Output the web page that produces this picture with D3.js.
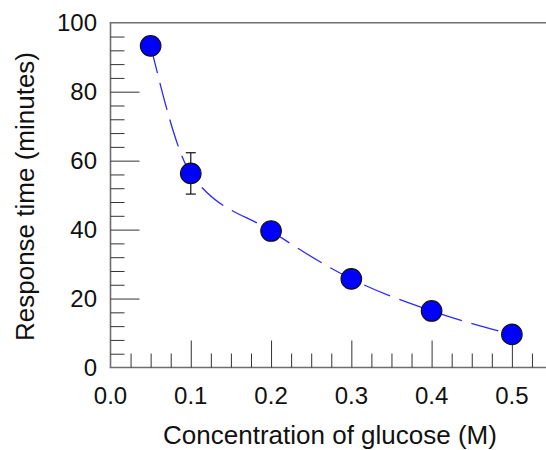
<!DOCTYPE html>
<html>
<head>
<meta charset="utf-8">
<script src="https://cdn.jsdelivr.net/npm/d3@7"></script>
<style>
  html, body { margin: 0; padding: 0; background: #fff; }
  svg { display: block; }
  text { font-family: "Liberation Sans", Arial, sans-serif; fill: #111; }
</style>
</head>
<body>
<svg id="chart" width="546" height="450"></svg>
<script>
// Glucose concentration (M) and measured response time (minutes)
const concentration = [0.05, 0.1, 0.2, 0.3, 0.4, 0.5];
const responseTime = [93.3, 56.3, 39.6, 25.7, 16.4, 9.6];
const errorMinutes = [2.6, 6.0, 2.0, 2.0, 2.0, 2.0];

const xTickValues = [0.0, 0.1, 0.2, 0.3, 0.4, 0.5];
const yTickValues = [0, 20, 40, 60, 80, 100];

(function () {
  const svg = d3.select("#chart");
  const W = 546;
  const plotLeft = 110.5, plotBottom = 367.5, plotTop = 22.75;

  const x = d3.scaleLinear().domain([0, 0.5425]).range([plotLeft, W]);
  const y = d3.scaleLinear().domain([0, 100]).range([plotBottom, plotTop]);

  // Frame lines: left, bottom, top
  const frame = svg.append("g").attr("stroke", "#6e6e6e").attr("stroke-width", 1.6);
  frame.append("line").attr("x1", plotLeft).attr("x2", plotLeft).attr("y1", plotTop).attr("y2", plotBottom);
  frame.append("line").attr("x1", plotLeft - 0.8).attr("x2", W).attr("y1", plotBottom).attr("y2", plotBottom);
  frame.append("line").attr("x1", plotLeft - 0.8).attr("x2", W).attr("y1", plotTop).attr("y2", plotTop);

  // X axis: inward ticks, major every 0.1 and minor every 0.025
  const xMinor = d3.range(0.025, 0.53, 0.025).filter(v => Math.abs(v * 10 - Math.round(v * 10)) > 1e-6);
  const xAxisMajor = d3.axisTop(x).tickValues(xTickValues.filter(v => v > 0)).tickSize(27).tickFormat("");
  const xAxisMinor = d3.axisTop(x).tickValues(xMinor).tickSize(14).tickFormat("");
  [xAxisMajor, xAxisMinor].forEach(ax => {
    const g = svg.append("g").attr("transform", `translate(0,${plotBottom})`).call(ax);
    g.select(".domain").remove();
    g.selectAll("line").attr("stroke", "#333").attr("stroke-width", 1);
  });

  // Y axis: inward ticks, major every 20 and minor every 4
  const yMinor = d3.range(4, 100, 4).filter(v => v % 20 !== 0);
  const yAxisMajor = d3.axisRight(y).tickValues(yTickValues.filter(v => v > 0 && v < 100)).tickSize(29).tickFormat("");
  const yAxisMinor = d3.axisRight(y).tickValues(yMinor).tickSize(14).tickFormat("");
  [yAxisMajor, yAxisMinor].forEach(ax => {
    const g = svg.append("g").attr("transform", `translate(${plotLeft},0)`).call(ax);
    g.select(".domain").remove();
    g.selectAll("line").attr("stroke", "#333").attr("stroke-width", 1);
  });

  // Tick labels
  svg.append("g").selectAll("text").data(xTickValues).join("text")
    .attr("x", d => x(d)).attr("y", 403.5)
    .attr("text-anchor", "middle").attr("font-size", 24)
    .text(d => d3.format(".1f")(d));

  svg.append("g").selectAll("text").data(yTickValues).join("text")
    .attr("x", 97).attr("y", d => y(d) + 8.6)
    .attr("text-anchor", "end").attr("font-size", 24)
    .text(d => d);

  // Axis titles
  svg.append("text").attr("x", 330).attr("y", 443.5)
    .attr("text-anchor", "middle").attr("font-size", 26)
    .text("Concentration of glucose (M)");
  svg.append("text")
    .attr("transform", "translate(33.5,196.5) rotate(-90)")
    .attr("text-anchor", "middle").attr("font-size", 26)
    .text("Response time (minutes)");

  // Data
  const pts = concentration.map((c, i) => ({ c, t: responseTime[i], e: errorMinutes[i] }));

  // Dashed trend curve through the measurements
  const line = d3.line().x(d => x(d.c)).y(d => y(d.t)).curve(d3.curveMonotoneX);
  svg.append("path").datum(pts)
    .attr("d", line)
    .attr("fill", "none")
    .attr("stroke", "#2a2aff")
    .attr("stroke-width", 1.3)
    .attr("stroke-dasharray", "28,10");

  // Error bars
  const eb = svg.append("g").attr("stroke", "#111").attr("stroke-width", 1.2);
  pts.forEach(d => {
    eb.append("line").attr("x1", x(d.c)).attr("x2", x(d.c)).attr("y1", y(d.t - d.e)).attr("y2", y(d.t + d.e));
    [d.t - d.e, d.t + d.e].forEach(v => {
      eb.append("line").attr("x1", x(d.c) - 5).attr("x2", x(d.c) + 5).attr("y1", y(v)).attr("y2", y(v));
    });
  });

  // Markers
  svg.append("g").selectAll("circle").data(pts).join("circle")
    .attr("cx", d => x(d.c)).attr("cy", d => y(d.t)).attr("r", 10.3)
    .attr("fill", "#0000ff").attr("stroke", "#111").attr("stroke-width", 1.1);
})();
</script>
</body>
</html>
